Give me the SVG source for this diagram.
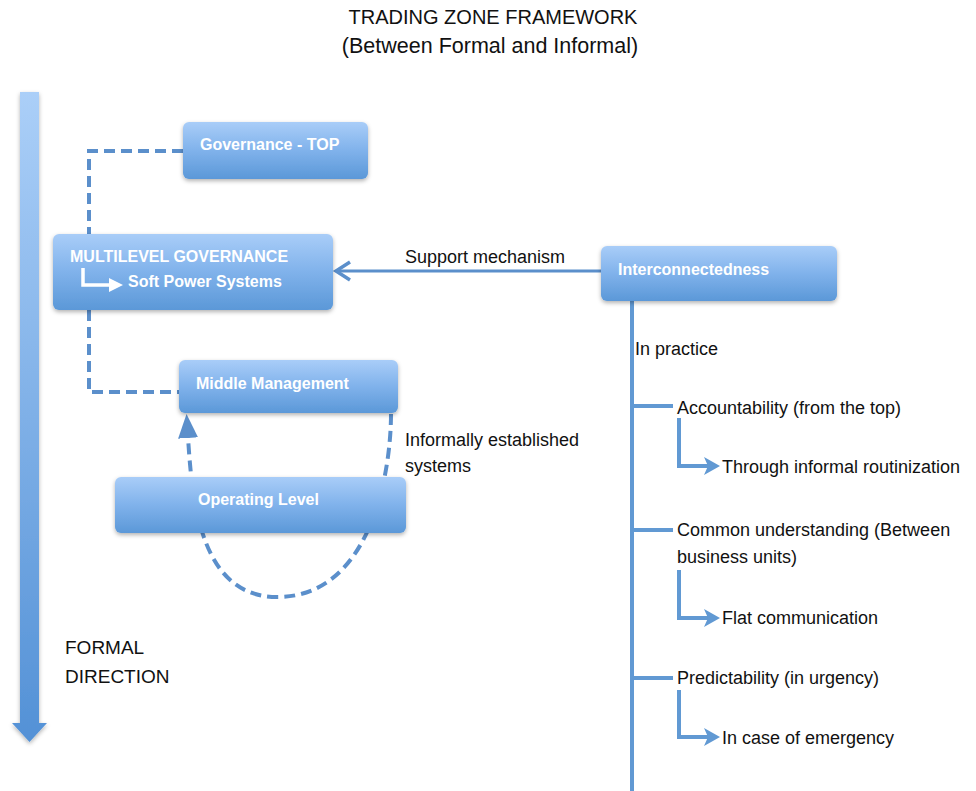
<svg xmlns="http://www.w3.org/2000/svg" width="976" height="791" viewBox="0 0 976 791">
<style>
text{font-family:"Liberation Sans",Arial,sans-serif}
.t{font-size:18px;fill:#111}
.ttl{font-size:20px;fill:#111;text-anchor:middle}
.nt{font-size:16px;font-weight:bold;fill:#fff}
.box{fill:url(#bg);filter:url(#sh)}
.dash{fill:none;stroke:#5b8fcb;stroke-width:4;stroke-dasharray:11 6}
.sol{fill:none;stroke:#6199d3;stroke-width:4}
</style>
<defs>
<linearGradient id="bg" x1="0" y1="0" x2="0" y2="1">
<stop offset="0" stop-color="#a9cdf8"/>
<stop offset="0.5" stop-color="#80b2eb"/>
<stop offset="1" stop-color="#5b98d8"/>
</linearGradient>
<linearGradient id="ag" x1="0" y1="0" x2="0" y2="1">
<stop offset="0" stop-color="#abcff8"/>
<stop offset="1" stop-color="#5391d6"/>
</linearGradient>
<filter id="sh" x="-10%" y="-10%" width="120%" height="140%">
<feDropShadow dx="0" dy="2" stdDeviation="2" flood-color="#000" flood-opacity="0.3"/>
</filter>
<marker id="fa" viewBox="0 0 16 18" markerWidth="16" markerHeight="18" markerUnits="userSpaceOnUse" refX="6" refY="9" orient="auto">
<path d="M0,0 L16,9 L0,18 L4,9 Z" fill="#6199d3"/>
</marker>
<marker id="up" viewBox="0 0 24 20" markerWidth="24" markerHeight="20" markerUnits="userSpaceOnUse" refX="1" refY="10" orient="auto">
<path d="M0,0 L24,10 L0,20 Z" fill="#5b8fcb"/>
</marker>
<marker id="wa" viewBox="0 0 14 14" markerWidth="14" markerHeight="14" markerUnits="userSpaceOnUse" refX="5" refY="7" orient="auto">
<path d="M0,0 L14,7 L0,14 Z" fill="#fff"/>
</marker>
</defs>
<rect width="976" height="791" fill="#fff"/>

<g id="title">
<text class="ttl" x="493" y="24">TRADING ZONE FRAMEWORK</text>
<text class="ttl" x="490" y="53" style="font-size:21.5px">(Between Formal and Informal)</text>
</g>

<g id="formal-direction">
<path d="M20,92 H39 V723 H47 L29.5,742 L12,723 H20 Z" fill="url(#ag)" filter="url(#sh)"/>
<text class="t" x="65" y="654" style="font-size:19px">FORMAL</text>
<text class="t" x="65" y="683" style="font-size:19px">DIRECTION</text>
</g>

<g id="connectors">
<path class="dash" d="M183,151 H89 V234"/>
<path class="dash" d="M89,310 V392 H179"/>
<path class="dash" d="M391,414 C391,470 372,597 277,597 C200,597 192,500 188,437" marker-end="url(#up)"/>
<path d="M601,271 H337" fill="none" stroke="#5b8fcb" stroke-width="3"/>
<polyline points="350,262 336,271 350,280" fill="none" stroke="#5b8fcb" stroke-width="3.5"/>
<path class="sol" d="M632,301 V791"/>
<path class="sol" d="M632,406 H673"/>
<path class="sol" d="M632,530 H673"/>
<path class="sol" d="M632,678 H673"/>
<path class="sol" d="M679,418 V466 H710" marker-end="url(#fa)"/>
<path class="sol" d="M679,570 V618 H710" marker-end="url(#fa)"/>
<path class="sol" d="M679,690 V737 H710" marker-end="url(#fa)"/>
<text class="t" x="405" y="263">Support mechanism</text>
<text class="t" x="405" y="446">Informally established</text>
<text class="t" x="405" y="472">systems</text>
<text class="t" x="635" y="355">In practice</text>
</g>

<g id="governance-top">
<rect class="box" x="183" y="122" width="185" height="57" rx="6"/>
<text class="nt" x="200" y="150">Governance - TOP</text>
</g>

<g id="multilevel-governance">
<rect class="box" x="53" y="234" width="280" height="76" rx="6"/>
<text class="nt" x="70" y="262">MULTILEVEL GOVERNANCE</text>
<path d="M83,268 V285 H114" fill="none" stroke="#fff" stroke-width="3.5" marker-end="url(#wa)"/>
<text class="nt" x="128" y="287">Soft Power Systems</text>
</g>

<g id="middle-management">
<rect class="box" x="179" y="360" width="219" height="53" rx="6"/>
<text class="nt" x="196" y="389">Middle Management</text>
</g>

<g id="operating-level">
<rect class="box" x="115" y="477" width="291" height="56" rx="6"/>
<text class="nt" x="198" y="505">Operating Level</text>
</g>

<g id="interconnectedness">
<rect class="box" x="601" y="246" width="236" height="55" rx="6"/>
<text class="nt" x="618" y="275">Interconnectedness</text>
</g>

<g id="accountability">
<text class="t" x="677" y="414">Accountability (from the top)</text>
<text class="t" x="722" y="473">Through informal routinization</text>
</g>

<g id="common-understanding">
<text class="t" x="677" y="536">Common understanding (Between</text>
<text class="t" x="677" y="563">business units)</text>
<text class="t" x="722" y="624">Flat communication</text>
</g>

<g id="predictability">
<text class="t" x="677" y="684">Predictability (in urgency)</text>
<text class="t" x="722" y="744">In case of emergency</text>
</g>
</svg>
